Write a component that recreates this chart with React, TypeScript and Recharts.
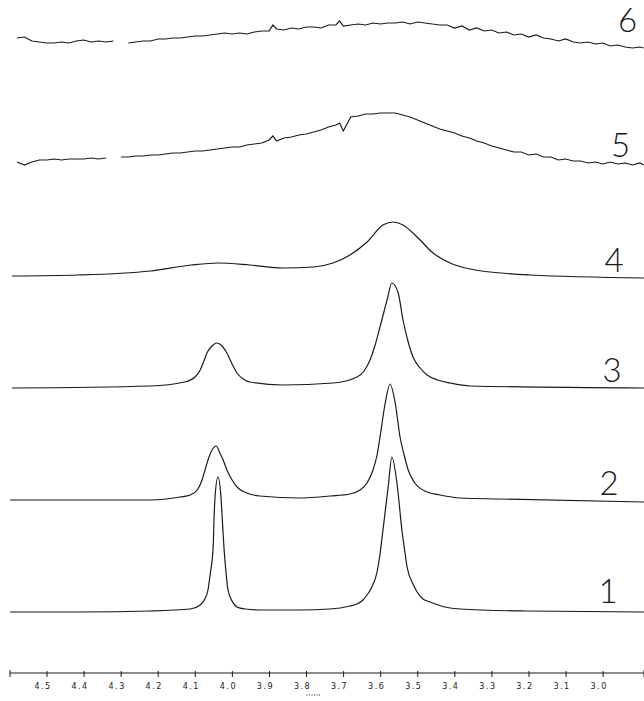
import React from 'react';
import { LineChart, Line, XAxis, YAxis } from 'recharts';

// chemical shift axis (ppm), drawn right-to-left
const X_MIN = 2.879;
const X_MAX = 4.589;
const TICKS = [4.5, 4.4, 4.3, 4.2, 4.1, 4.0, 3.9, 3.8, 3.7, 3.6, 3.5, 3.4, 3.3, 3.2, 3.1, 3.0];

// spectrum 1 (bottom) - two sharp lines
const trace1Ppm = [
  4.589, 4.4, 4.21, 4.103, 4.076, 4.065, 4.055, 4.049, 4.041, 4.039,
  4.036, 4.028, 4.02, 4.016, 4.012, 4.006, 4.001, 3.99, 3.977, 3.955,
  3.915, 3.81, 3.726, 3.672, 3.653, 3.637, 3.626, 3.613, 3.599, 3.591,
  3.583, 3.569, 3.559, 3.545, 3.532, 3.524, 3.518, 3.502, 3.491, 3.475,
  3.456, 3.416, 3.375, 3.2, 2.879,
];
const trace1 = [
  0, 0, 1, 3, 7, 12, 22, 38, 65, 90,
  115, 135, 115, 90, 65, 38, 22, 11, 5, 3,
  2, 2, 3, 6, 8, 12, 17, 25, 40, 58,
  82, 125, 155, 128, 82, 60, 45, 28, 20, 13,
  10, 5, 3, 1, 0,
];

// spectrum 2
const trace2Ppm = [
  4.589, 4.4, 4.21, 4.13, 4.103, 4.084, 4.071, 4.063, 4.055, 4.044,
  4.033, 4.023, 4.014, 4.004, 3.99, 3.974, 3.95, 3.915, 3.807, 3.726,
  3.672, 3.645, 3.626, 3.61, 3.599, 3.591, 3.577, 3.564, 3.55, 3.537,
  3.526, 3.515, 3.497, 3.464, 3.429, 3.375, 3.27, 2.879,
];
const trace2 = [
  0, 0, 0, 3, 5, 10, 20, 30, 40, 50,
  54, 47, 40, 30, 20, 12, 7, 4, 2, 4,
  6, 10, 17, 30, 45, 63, 97, 116, 97, 63,
  45, 30, 17, 8, 5, 2, 1, -2,
];

// spectrum 3
const trace3Ppm = [
  4.584, 4.211, 4.118, 4.09, 4.076, 4.067, 4.058, 4.044, 4.031, 4.017,
  4.004, 3.99, 3.977, 3.96, 3.942, 3.853, 3.718, 3.653, 3.634, 3.618,
  3.605, 3.591, 3.572, 3.559, 3.542, 3.529, 3.515, 3.502, 3.483, 3.464,
  3.435, 3.402, 3.348, 2.879,
];
const trace3 = [
  0, 2, 6, 11, 18, 26, 35, 42, 45, 42,
  35, 24, 15, 9, 6, 3, 5, 11, 17, 28,
  42, 61, 88, 105, 95, 68, 46, 31, 20, 13,
  8, 5, 2, 0,
];

// spectrum 4 - broad hump plus one line
const trace4Ppm = [
  4.584, 4.405, 4.211, 4.1, 4.028, 3.942, 3.853, 3.77, 3.718, 3.672,
  3.626, 3.583, 3.556, 3.529, 3.491, 3.448, 3.402, 3.348, 3.186, 2.879,
];
const trace4 = [
  0, 1, 5, 11, 13, 11, 8, 9, 13, 21,
  34, 51, 54, 51, 39, 23, 13, 7, 1, -2,
];

// spectra 5 and 6 are noisy, read on a shared grid
const noisyPpm = [
  4.57, 4.55, 4.53, 4.51, 4.49, 4.47, 4.45, 4.43, 4.41, 4.39,
  4.37, 4.35, 4.33, 4.31, 4.29, 4.27, 4.25, 4.23, 4.21, 4.19,
  4.17, 4.15, 4.13, 4.11, 4.09, 4.07, 4.05, 4.03, 4.01, 3.99,
  3.97, 3.95, 3.93, 3.91, 3.89, 3.88, 3.87, 3.85, 3.83, 3.81,
  3.79, 3.77, 3.75, 3.73, 3.71, 3.7, 3.69, 3.67, 3.65, 3.63,
  3.61, 3.59, 3.57, 3.55, 3.53, 3.51, 3.49, 3.47, 3.45, 3.43,
  3.41, 3.39, 3.37, 3.35, 3.33, 3.31, 3.29, 3.27, 3.25, 3.23,
  3.21, 3.19, 3.17, 3.15, 3.13, 3.11, 3.09, 3.07, 3.05, 3.03,
  3.01, 2.99, 2.97, 2.95, 2.93, 2.91, 2.89, 2.88,
];
const trace5 = [
  2, -1, 2, 4, 4, 5, 4, 5, 5, 5,
  6, 5, 6, null, 7, 7, 8, 8, 9, 9,
  10, 11, 11, 12, 13, 13, 14, 15, 16, 17,
  17, 19, 20, 21, 24, 28, 23, 26, 27, 29,
  30, 32, 34, 37, 39, 41, 33, 47, 48, 50,
  50, 51, 51, 51, 49, 47, 44, 41, 38, 35,
  33, 31, 28, 26, 23, 21, 18, 16, 14, 12,
  12, 9, 10, 7, 7, 4, 5, 3, 3, 1,
  2, 0, 2, 0, 1, -1, 1, -1,
];
const trace6 = [
  14, 15, 11, 10, 9, 9, 10, 9, 11, 12,
  10, 11, 10, 11, null, 9, 10, 11, 11, 13,
  13, 14, 14, 15, 16, 16, 17, 18, 19, 18,
  19, 18, 20, 21, 21, 27, 23, 22, 24, 23,
  25, 25, 24, 27, 27, 31, 26, 27, 28, 27,
  29, 28, 29, 29, 30, 28, 30, 29, 28, 27,
  27, 24, 26, 22, 24, 21, 22, 19, 20, 17,
  18, 15, 17, 14, 13, 11, 13, 10, 9, 10,
  8, 9, 6, 7, 5, 4, 5, 4,
];

const SPECTRA = [
  { ppm: trace1Ppm, vals: trace1, smooth: true },
  { ppm: trace2Ppm, vals: trace2, smooth: true },
  { ppm: trace3Ppm, vals: trace3, smooth: true },
  { ppm: trace4Ppm, vals: trace4, smooth: true },
  { ppm: noisyPpm, vals: trace5, smooth: false },
  { ppm: noisyPpm, vals: trace6, smooth: false },
];

// layout
const W = 644;
const H = 701;
const STEP = 112; // vertical offset between stacked spectra
const AXIS_Y = 673;
const Y_DOMAIN = [-61, 612];
const LABEL_DX = [-36, -35, -32, -30, -23, -16];
const LABEL_DY = [-9, -7, -6, -6, -8, -16];
const INK = '#1a1a1a';

const stack = (ppm: number[], vals: (number | null)[], k: number) =>
  ppm.map((p, i) => ({ ppm: p, v: vals[i] == null ? null : (vals[i] as number) + k * STEP }));

const AxisTick = (props: any) => {
  const { x, y, payload } = props;
  const v = payload.value;
  if (v === X_MIN || v === X_MAX) {
    return <line x1={x} x2={x} y1={y - 3} y2={y + 4} stroke={INK} />;
  }
  return (
    <g>
      <line x1={x + 4} x2={x + 4} y1={y - 2} y2={y + 4} stroke={INK} />
      <text
        x={x}
        y={y + 16}
        textAnchor="middle"
        fontSize={8}
        letterSpacing={1.5}
        fontFamily="DejaVu Sans"
        fill={INK}
      >
        {v.toFixed(1)}
      </text>
      {v === 3.8 ? (
        <line x1={x + 4} x2={x + 18} y1={y + 22} y2={y + 22} stroke={INK} strokeDasharray="1 1.5" />
      ) : null}
    </g>
  );
};

const makeLabel = (k: number, last: number) => (props: any) => {
  const { x, y, index } = props;
  if (index !== last) return null;
  return (
    <text
      key={`lbl-${k}`}
      x={x + LABEL_DX[k]}
      y={y + LABEL_DY[k]}
      textAnchor="middle"
      fontSize={33}
      fontFamily="Lato"
      fontWeight={300}
      fill={INK}
    >
      {k + 1}
    </text>
  );
};

export default function App() {
  return (
    <div style={{ position: 'absolute', left: 0, top: 0, width: W, height: H, background: '#fff' }}>
      <LineChart width={W} height={H} margin={{ top: 0, right: 0, left: 10, bottom: 0 }}>
        <XAxis
          dataKey="ppm"
          type="number"
          domain={[X_MIN, X_MAX]}
          reversed
          allowDataOverflow
          ticks={[X_MAX, ...TICKS, X_MIN]}
          interval={0}
          height={H - AXIS_Y}
          tickSize={0}
          tickMargin={0}
          tickLine={false}
          axisLine={{ stroke: INK, strokeWidth: 1 }}
          tick={<AxisTick />}
        />
        <YAxis hide type="number" domain={Y_DOMAIN} allowDataOverflow />
        {SPECTRA.map((s, k) => (
          <Line
            key={k}
            data={stack(s.ppm, s.vals, k)}
            dataKey="v"
            type={s.smooth ? 'monotone' : 'linear'}
            stroke={INK}
            strokeWidth={1.2}
            dot={false}
            activeDot={false}
            connectNulls={false}
            isAnimationActive={false}
            label={makeLabel(k, s.ppm.length - 1)}
          />
        ))}
      </LineChart>
    </div>
  );
}
